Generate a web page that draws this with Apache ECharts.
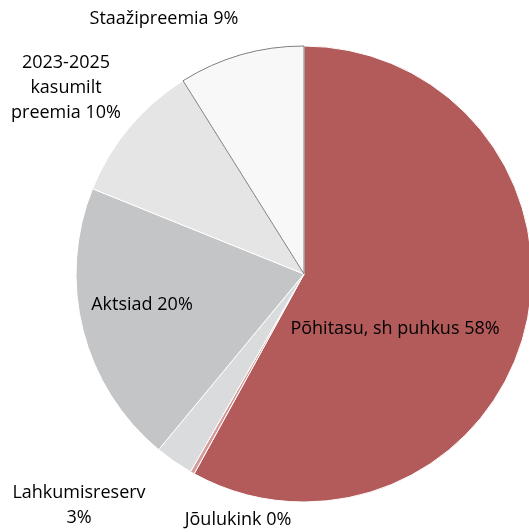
<!DOCTYPE html>
<html>
<head>
<meta charset="utf-8">
<script src="https://cdn.jsdelivr.net/npm/echarts@6/dist/echarts.min.js"></script>
<style>
  html, body { margin: 0; padding: 0; background: #fff; }
  #chart { width: 529px; height: 532px; }
</style>
</head>
<body>
<div id="chart"></div>
<script>
// andmed (osakaal %)
const names = ['Põhitasu, sh puhkus', 'Jõulukink', 'Lahkumisreserv', 'Aktsiad', '2023-2025 kasumilt preemia', 'Staažipreemia'];
const values = [58.0, 0.3, 2.7, 20.1, 10.0, 8.9];
const labels = ['Põhitasu, sh puhkus 58%', 'Jõulukink 0%', 'Lahkumisreserv\n3%', 'Aktsiad 20%', '2023-2025\nkasumilt\npreemia 10%', 'Staažipreemia 9%'];
const colors = ['#B35A5A', '#D59C9C', '#DADBDD', '#C4C5C7', '#E5E5E5', '#F8F8F8'];

// sildi asukohad
const labelPos = [[395, 329], [238, 520], [79, 505], [142, 305], [66, 88], [164, 19]];

const chart = echarts.init(document.getElementById('chart'));

chart.setOption({
  animation: false,
  series: [
    {
      type: 'pie',
      center: [304, 274],
      radius: 228,
      startAngle: 90,
      clockwise: true,
      avoidLabelOverlap: false,
      label: {
        show: true,
        color: '#000',
        fontFamily: 'Open Sans',
        fontSize: 18,
        lineHeight: 25,
        align: 'center',
        formatter: p => labels[p.dataIndex]
      },
      labelLine: { show: false },
      labelLayout: p => ({
        x: labelPos[p.dataIndex][0],
        y: labelPos[p.dataIndex][1],
        align: 'center',
        verticalAlign: 'middle'
      }),
      emphasis: { disabled: true },
      data: names.map((n, i) => ({
        name: n,
        value: values[i],
        itemStyle: {
          color: colors[i],
          borderColor: i === 5 ? '#7F7F7F' : '#fff',
          borderWidth: 1
        }
      }))
    }
  ]
});
</script>
</body>
</html>
